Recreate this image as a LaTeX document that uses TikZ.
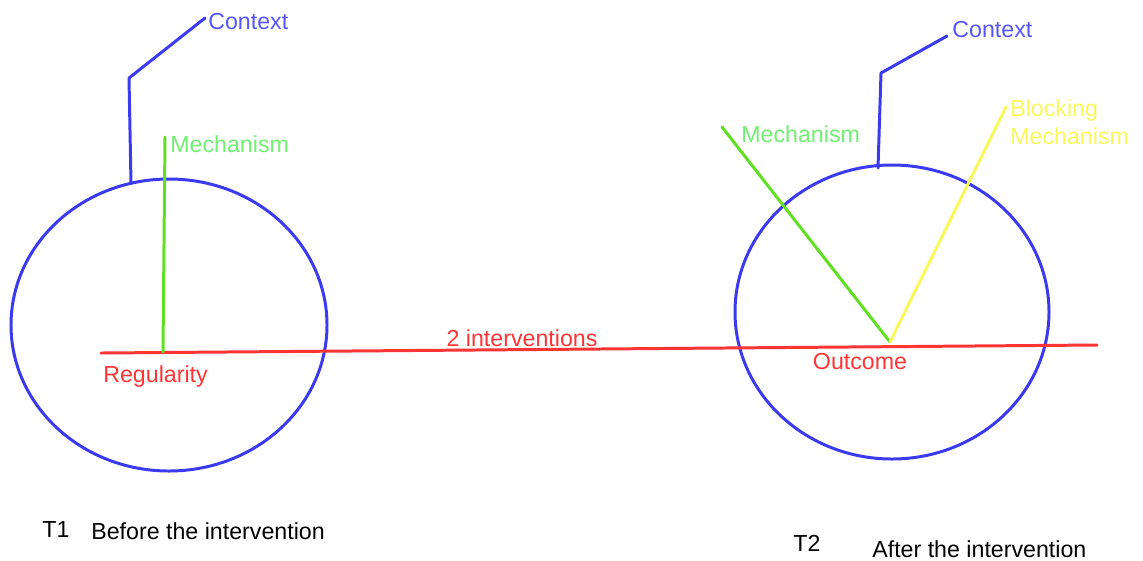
\documentclass[tikz,border=0pt]{standalone}
\usepackage{fontspec}
\setmainfont{Liberation Sans}
\usepackage{tikz}
\usetikzlibrary{shapes.geometric}
\definecolor{ctx}{HTML}{3A3AF2}
\definecolor{ctxt}{HTML}{5555FF}
\definecolor{mech}{HTML}{5FE022}
\definecolor{mecht}{HTML}{70F070}
\definecolor{blk}{HTML}{F8F85A}
\definecolor{reg}{HTML}{FF3434}
\tikzset{
  lab/.style={inner sep=0pt,font=\fontsize{13.2}{15.9}\selectfont,anchor=west},
  blob/.style={draw=ctx,ellipse,line width=1.7pt,inner sep=0pt},
  ln/.style={line width=1.7pt,line cap=round,line join=round},
}
\begin{document}
\begin{tikzpicture}[x=0.2mm,y=-0.2mm]
\useasboundingbox (0,0) rectangle (1143,560);
% the two situations
\node[blob,minimum width=63.2mm,minimum height=58.4mm] (t1) at (169,325) {};
\node[blob,minimum width=62.8mm,minimum height=58.8mm] (t2) at (892,312) {};
% labels
\node[lab,text=ctxt] (ctxA) at (208,22) {Context};
\node[lab,text=mecht] (mechA) at (170,144) {Mechanism};
\node[lab,text=reg] (regul) at (103,376) {Regularity};
\node[lab,text=reg,anchor=center] (interv) at (522,338) {2 interventions};
\node[lab,text=ctxt] (ctxB) at (952,30) {Context};
\node[lab,text=mecht] (mechB) at (741,134) {Mechanism};
\node[lab,text=blk,anchor=north west,align=left] (block) at (1010,99) {Blocking\\Mechanism};
\node[lab,text=reg,anchor=center] (outc) at (860,362) {Outcome};
\node[lab] (tA) at (42,530) {T1};
\node[lab] (befA) at (91,531) {Before the intervention};
\node[lab] (tB) at (793,543) {T2};
\node[lab] (aftB) at (872,549) {After the intervention};
% points on the lines
\coordinate (rs) at (101,353);
\coordinate (re) at (1097,345);
\coordinate (mfoot) at (163,352);
\coordinate (mtop) at (165,137);
\coordinate (cfootA) at (131,183);
\coordinate (ckneeA) at (129,78);
\coordinate (ctopA) at (205,18);
\coordinate (cfootB) at (878,168);
\coordinate (ckneeB) at (881,73);
\coordinate (ctopB) at (947,36);
\coordinate (vtx) at (890,342);
\coordinate (mtopB) at (722,127);
\coordinate (btop) at (1006,107);
% connectors
\draw[ln,reg] (rs) -- (re);
\draw[ln,mech] (mfoot) -- (mtop);
\draw[ln,ctx] (cfootA) -- (ckneeA) -- (ctopA);
\draw[ln,ctx] (cfootB) -- (ckneeB) -- (ctopB);
\draw[ln,mech] (vtx) -- (mtopB);
\draw[ln,blk] (vtx) -- (btop);
\end{tikzpicture}
\end{document}
